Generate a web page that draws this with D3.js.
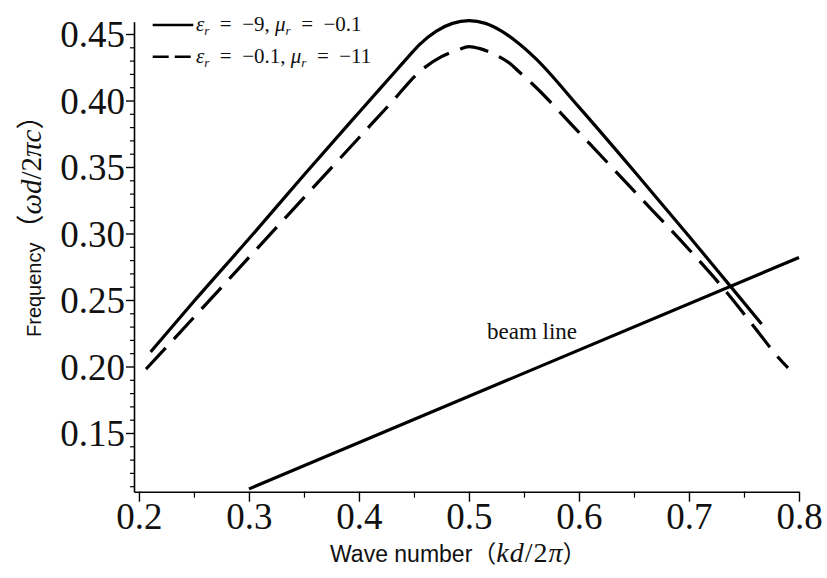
<!DOCTYPE html>
<html>
<head>
<meta charset="utf-8">
<script src="https://cdn.jsdelivr.net/npm/d3@7"></script>
<style>
  body { margin: 0; background: #fff; }
  svg { display: block; }
</style>
</head>
<body>
<svg id="chart" width="827" height="578"></svg>
<script>
// ---- data ----
const solidK = [0.2106, 0.25, 0.30, 0.35, 0.40, 0.43, 0.445, 0.455, 0.47, 0.485, 0.50, 0.515, 0.53, 0.545, 0.56, 0.60, 0.65, 0.70, 0.737, 0.766];
const solidW = [0.211, 0.249, 0.296, 0.344, 0.391, 0.419, 0.433, 0.442, 0.452, 0.458, 0.460, 0.458, 0.452, 0.443, 0.432, 0.395, 0.347, 0.298, 0.261, 0.232];

const dashedK = [0.2064, 0.25, 0.30, 0.35, 0.40, 0.43, 0.455, 0.475, 0.49, 0.50, 0.51, 0.525, 0.537, 0.545, 0.557, 0.60, 0.65, 0.70, 0.731, 0.76, 0.781, 0.79];
const dashedW = [0.198, 0.237, 0.282, 0.327, 0.372, 0.399, 0.4216, 0.433, 0.438, 0.4405, 0.439, 0.434, 0.428, 0.422, 0.413, 0.376, 0.332, 0.288, 0.259, 0.229, 0.207, 0.199];

const beamK = [0.3, 0.8];
const beamW = [0.108, 0.282];

const xTickVals = [0.2, 0.3, 0.4, 0.5, 0.6, 0.7, 0.8];
const xTickLabels = ["0.2", "0.3", "0.4", "0.5", "0.6", "0.7", "0.8"];
const yTickVals = [0.15, 0.20, 0.25, 0.30, 0.35, 0.40, 0.45];
const yTickLabels = ["0.15", "0.20", "0.25", "0.30", "0.35", "0.40", "0.45"];

const legendNames = [
  {eps: "−9", mu: "−0.1"},
  {eps: "−0.1", mu: "−11"}
];

// ---- layout ----
const svg = d3.select("#chart");
const x = d3.scaleLinear().domain([0.1955, 0.8]).range([134, 799]);
const y = d3.scaleLinear().domain([0.10586, 0.45925]).range([491.7, 21.7]);

const serif = "'Liberation Serif', 'Times New Roman', serif";
const sans = "'Liberation Sans', Arial, sans-serif";
const cjk = "'Noto Sans CJK JP', 'Noto Sans CJK SC', sans-serif";

// minor ticks
const xMinor = d3.range(0.25, 0.8, 0.1);
const yMinor = d3.range(0.11, 0.459, 0.01).filter(v => Math.abs(Math.round(v * 20) - v * 20) > 1e-6);

// X axis
const xAxis = d3.axisBottom(x).tickValues(xTickVals).tickFormat((d, i) => xTickLabels[i]).tickSize(10).tickSizeOuter(0);
const gx = svg.append("g").attr("transform", "translate(0,491.7)").call(xAxis);
gx.select(".domain").attr("stroke", "#000").attr("stroke-width", 1.6);
gx.selectAll(".tick line").attr("stroke-width", 1.4);
gx.selectAll(".tick text").attr("font-family", serif).attr("font-size", 37).attr("dy", "0.71em").attr("y", 11).attr("fill", "#111");
svg.append("g").attr("transform", "translate(0,491.7)")
  .call(d3.axisBottom(x).tickValues(xMinor).tickFormat("").tickSize(6).tickSizeOuter(0))
  .call(g => g.select(".domain").remove())
  .selectAll("line").attr("stroke-width", 1.2);

// Y axis
const yAxis = d3.axisLeft(y).tickValues(yTickVals).tickFormat((d, i) => yTickLabels[i]).tickSize(8).tickSizeOuter(0);
const gy = svg.append("g").attr("transform", "translate(134,0)").call(yAxis);
gy.select(".domain").attr("stroke", "#000").attr("stroke-width", 1.6);
gy.selectAll(".tick line").attr("stroke-width", 1.4);
gy.selectAll(".tick text").attr("font-family", serif).attr("font-size", 37).attr("x", -9).attr("dy", "0.35em").attr("fill", "#111");
svg.append("g").attr("transform", "translate(134,0)")
  .call(d3.axisLeft(y).tickValues(yMinor).tickFormat("").tickSize(4).tickSizeOuter(0))
  .call(g => g.select(".domain").remove())
  .selectAll("line").attr("stroke-width", 1.2);

// lines
const line = d3.line().x(d => x(d[0])).y(d => y(d[1])).curve(d3.curveMonotoneX);

svg.append("path")
  .datum(solidK.map((k, i) => [k, solidW[i]]))
  .attr("d", line).attr("fill", "none").attr("stroke", "#000").attr("stroke-width", 3.2);

svg.append("path")
  .datum(dashedK.map((k, i) => [k, dashedW[i]]))
  .attr("d", line).attr("fill", "none").attr("stroke", "#000").attr("stroke-width", 3.2)
  .attr("stroke-dasharray", "29,12");

svg.append("path")
  .datum(beamK.map((k, i) => [k, beamW[i]]))
  .attr("d", d3.line().x(d => x(d[0])).y(d => y(d[1])))
  .attr("fill", "none").attr("stroke", "#000").attr("stroke-width", 3.2);

// beam label
svg.append("text").attr("x", 487).attr("y", 339)
  .attr("font-family", serif).attr("font-size", 23).attr("fill", "#111").text("beam line");

// legend
const legY = [25, 56.7];
const sp = "\u2002";
legendNames.forEach((n, i) => {
  const ly = legY[i];
  svg.append("line").attr("x1", 152.7).attr("x2", 193.3).attr("y1", ly).attr("y2", ly)
    .attr("stroke", "#000").attr("stroke-width", 2.4)
    .attr("stroke-dasharray", i === 1 ? "16,6" : null);
  const t = svg.append("text").attr("x", 196).attr("y", ly + 6)
    .attr("font-family", serif).attr("font-size", 21).attr("fill", "#111");
  t.append("tspan").attr("font-style", "italic").text("ε");
  t.append("tspan").attr("font-style", "italic").attr("font-size", 13).attr("dy", 4).text("r");
  t.append("tspan").attr("dy", -4).text(sp + "=" + sp + n.eps + ", ");
  t.append("tspan").attr("font-style", "italic").text("μ");
  t.append("tspan").attr("font-style", "italic").attr("font-size", 13).attr("dy", 4).text("r");
  t.append("tspan").attr("dy", -4).text(sp + "=" + sp + n.mu);
});

// x title
const xt = svg.append("text").attr("x", 330).attr("y", 562).attr("fill", "#111");
xt.append("tspan").attr("font-family", sans).attr("font-size", 23).text("Wave number");
xt.append("tspan").attr("font-family", cjk).attr("font-size", 24).text("（");
xt.append("tspan").attr("font-family", serif).attr("font-style", "italic").attr("font-size", 28).attr("letter-spacing", 1).text("kd");
xt.append("tspan").attr("font-family", serif).attr("font-size", 28).attr("letter-spacing", 1).text("/2");
xt.append("tspan").attr("font-family", serif).attr("font-style", "italic").attr("font-size", 28).text("π");
xt.append("tspan").attr("font-family", cjk).attr("font-size", 24).text("）");

// y title
const yt = svg.append("text").attr("transform", "translate(41,337) rotate(-90)").attr("fill", "#111");
yt.append("tspan").attr("font-family", sans).attr("font-size", 20).text("Frequency");
yt.append("tspan").attr("font-family", cjk).attr("font-size", 28).text("（");
yt.append("tspan").attr("font-family", serif).attr("font-style", "italic").attr("font-size", 29).text("ωd");
yt.append("tspan").attr("font-family", serif).attr("font-size", 29).text("/2");
yt.append("tspan").attr("font-family", serif).attr("font-style", "italic").attr("font-size", 29).text("πc");
yt.append("tspan").attr("font-family", cjk).attr("font-size", 28).text("）");
</script>
</body>
</html>
